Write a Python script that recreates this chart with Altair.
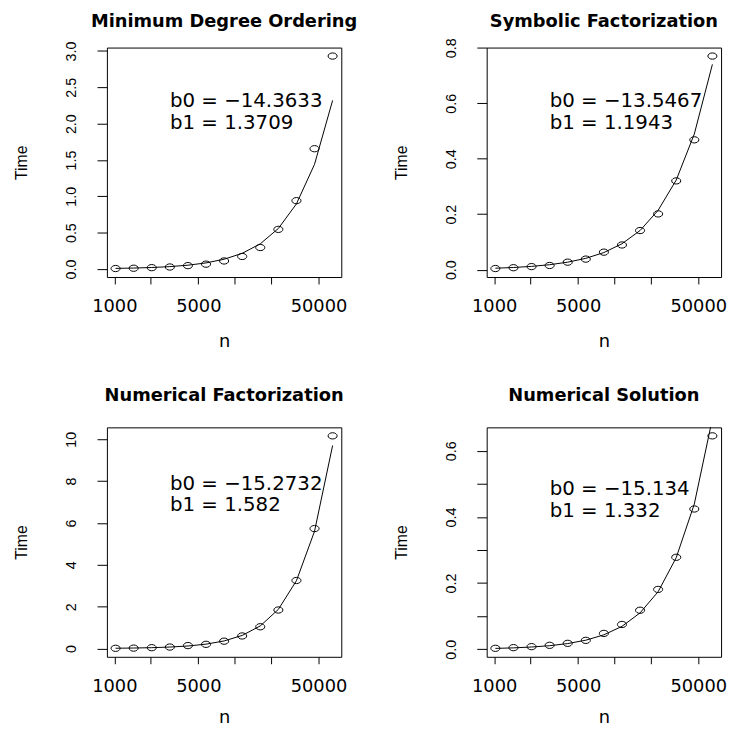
import altair as alt
import pandas as pd

n_vals = [1024, 1448, 2048, 2896, 4096, 5793, 8192, 11585, 16384, 23170, 32768, 46341, 65536]

titles = ["Minimum Degree Ordering", "Symbolic Factorization",
          "Numerical Factorization", "Numerical Solution"]

time_mdo = [0.006, 0.010, 0.018, 0.027, 0.046, 0.066, 0.110, 0.172, 0.295, 0.545, 0.940, 1.655, 2.93]
fit_mdo = [0.0077, 0.0125, 0.0200, 0.0322, 0.0518, 0.0833, 0.134, 0.215, 0.346, 0.557, 0.896, 1.44, 2.32]

time_sym = [0.004, 0.007, 0.011, 0.015, 0.027, 0.038, 0.063, 0.089, 0.141, 0.201, 0.320, 0.468, 0.770]
fit_sym = [0.0052, 0.0078, 0.0118, 0.0178, 0.0270, 0.0408, 0.0617, 0.0934, 0.141, 0.214, 0.323, 0.489, 0.740]

time_num = [0.01, 0.02, 0.04, 0.07, 0.14, 0.20, 0.35, 0.60, 1.04, 1.84, 3.25, 5.73, 10.16]
fit_num = [0.0135, 0.0233, 0.0403, 0.0698, 0.121, 0.209, 0.361, 0.625, 1.08, 1.87, 3.24, 5.60, 9.70]

time_sol = [0.003, 0.005, 0.008, 0.012, 0.018, 0.027, 0.048, 0.075, 0.118, 0.181, 0.278, 0.424, 0.645]
fit_sol = [0.0027, 0.0043, 0.0069, 0.0109, 0.0173, 0.0275, 0.0437, 0.0693, 0.110, 0.174, 0.277, 0.439, 0.697]

coef_labels = [["b0 = \u221214.3633", "b1 = 1.3709"],
               ["b0 = \u221213.5467", "b1 = 1.1943"],
               ["b0 = \u221215.2732", "b1 = 1.582"],
               ["b0 = \u221215.134", "b1 = 1.332"]]
label_x = 2900
label_y = [[2.31, 2.01], [0.606, 0.528], [7.88, 6.84], [0.484, 0.4185]]

y_domains = [[-0.111, 3.047], [-0.0266, 0.8006], [-0.396, 10.566], [-0.0227, 0.6707]]
y_ticks = [[0, 0.5, 1.0, 1.5, 2.0, 2.5, 3.0],
           [0, 0.2, 0.4, 0.6, 0.8],
           [0, 2, 4, 6, 8, 10],
           [0, 0.1, 0.2, 0.3, 0.4, 0.5, 0.6]]
y_label_expr = ["format(datum.value, '.1f')",
                "format(datum.value, '.1f')",
                "format(datum.value, 'd')",
                "abs(round(datum.value * 10)) % 2 == 0 ? format(datum.value, '.1f') : ''"]

x_ticks = [1000, 2000, 5000, 10000, 20000, 50000]
x_domain = [867, 77400]

series = [(time_mdo, fit_mdo), (time_sym, fit_sym), (time_num, fit_num), (time_sol, fit_sol)]
title_offsets = [-3.5, -7, 9, 9]
x_title_pad = [17, 17, 13, 13]

ELLIPSE = "M -1.45 0 A 1.45 1 0 1 0 1.45 0 A 1.45 1 0 1 0 -1.45 0 Z"


def panel(i):
    t, f = series[i]
    df = pd.DataFrame({"n": n_vals, "time": t, "fit": f})
    tdf = pd.DataFrame({"x": [label_x, label_x], "y": label_y[i], "label": coef_labels[i]})
    xs = alt.Scale(type="log", domain=x_domain, nice=False)
    ys = alt.Scale(domain=y_domains[i], nice=False, zero=False)
    xaxis = alt.Axis(values=x_ticks, tickCount=20,
                     labelExpr="datum.value == 1000 || datum.value == 5000 || datum.value == 50000 ? format(datum.value, 'd') : ''",
                     title="n", tickSize=7, domain=False, grid=False,
                     labelFont="DejaVu Sans", labelFontSize=18, labelPadding=14,
                     labelOverlap=False, labelFlush=False,
                     titleFont="DejaVu Sans", titleFontSize=18, titleFontWeight="normal",
                     titlePadding=x_title_pad[i], labelColor="black", tickColor="black",
                     titleColor="black")
    yaxis = alt.Axis(values=y_ticks[i], tickCount=20, labelExpr=y_label_expr[i],
                     title="Time", tickSize=10, domain=False, grid=False,
                     labelAngle=270, labelAlign="center", labelBaseline="bottom",
                     labelFont="Liberation Sans", labelFontSize=14.5, labelPadding=19,
                     labelOverlap=False, labelFlush=False,
                     titleFont="Liberation Sans", titleFontSize=16, titleFontWeight="normal",
                     titlePadding=34, labelColor="black", tickColor="black", titleColor="black")
    base = alt.Chart(df)
    line = base.mark_line(color="black", strokeWidth=1, clip=True).encode(
        x=alt.X("n:Q", scale=xs, axis=xaxis),
        y=alt.Y("fit:Q", scale=ys, axis=yaxis),
    )
    pts = base.mark_point(shape=ELLIPSE, size=40, filled=False, color="black",
                          strokeWidth=1, opacity=1).encode(
        x=alt.X("n:Q", scale=xs),
        y=alt.Y("time:Q", scale=ys),
    )
    txt = alt.Chart(tdf).mark_text(align="left", baseline="middle", font="DejaVu Sans",
                                   fontSize=20, color="black").encode(
        x=alt.X("x:Q", scale=xs),
        y=alt.Y("y:Q", scale=ys),
        text="label:N",
    )
    return alt.layer(line, pts, txt).properties(
        width=237, height=232,
        title=alt.TitleParams(titles[i], font="DejaVu Sans", fontSize=18, fontWeight="bold",
                              anchor="middle", baseline="alphabetic", frame="group",
                              offset=title_offsets[i], color="black"),
    )


chart = alt.concat(panel(0), panel(1), panel(2), panel(3), columns=2,
                   spacing={"row": 152, "column": 147}, bounds="flush").properties(
    padding={"left": 5, "top": 0, "right": 0, "bottom": 0},
    background="white",
).configure_view(stroke="black", strokeWidth=1)

chart.save("out.html", embed_options={"renderer": "svg", "actions": False})
